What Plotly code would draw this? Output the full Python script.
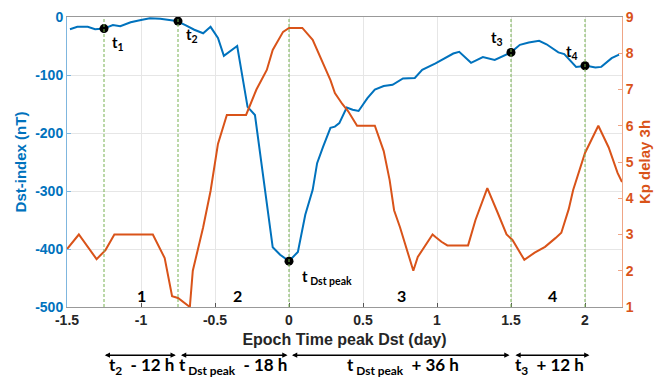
import plotly.graph_objects as go

# ---- data ----
dst_t = [-1.48, -1.43, -1.36, -1.31, -1.25, -1.19, -1.14, -1.07, -1.0, -0.94, -0.87, -0.76,
         -0.70, -0.64, -0.58, -0.53, -0.48, -0.44, -0.35, -0.28, -0.23, -0.20, -0.16, -0.11,
         -0.06, 0.0, 0.06, 0.11, 0.16, 0.19, 0.23, 0.28, 0.31, 0.34, 0.39, 0.43, 0.47, 0.53,
         0.58, 0.64, 0.70, 0.77, 0.85, 0.90, 0.99, 1.05, 1.11, 1.15, 1.23, 1.31, 1.39, 1.50,
         1.56, 1.62, 1.69, 1.74, 1.82, 1.86, 1.94, 2.01, 2.07, 2.11, 2.18, 2.23]
dst_v = [-21, -17, -17, -21, -20, -14, -16, -9, -5, -2, -3, -7,
         -14, -22, -28, -17, -36, -67, -50, -155, -169, -224, -298, -397,
         -410, -421, -405, -341, -298, -252, -224, -191, -189, -183, -156, -160, -162, -140,
         -125, -119, -117, -106, -105, -91, -80, -71, -63, -60, -79, -69, -74, -61,
         -48, -44, -41, -47, -61, -64, -86, -84, -87, -86, -71, -65]

kp_t = [-1.5, -1.42, -1.30, -1.24, -1.18, -0.92, -0.84, -0.79, -0.75, -0.70, -0.67, -0.65,
        -0.58, -0.53, -0.48, -0.42, -0.29, -0.22, -0.15, -0.11, -0.04, 0.0, 0.09, 0.16,
        0.21, 0.28, 0.31, 0.36, 0.40, 0.46, 0.58, 0.64, 0.68, 0.71, 0.75, 0.84, 0.87, 0.97,
        0.99, 1.03, 1.07, 1.21, 1.26, 1.34, 1.41, 1.47, 1.51, 1.59, 1.66, 1.73, 1.80, 1.84,
        1.89, 1.92, 2.0, 2.09, 2.16, 2.22, 2.25]
kp_v = [2.6, 3.0, 2.32, 2.57, 3.0, 3.0, 2.35, 1.3, 1.25, 1.1, 1.0, 2.0,
        3.2, 4.2, 5.5, 6.3, 6.3, 7.0, 7.54, 8.09, 8.59, 8.7, 8.7, 8.37,
        7.9, 7.26, 6.9, 6.6, 6.4, 6.0, 6.0, 5.3, 4.5, 3.67, 3.2, 2.0, 2.38, 3.0,
        2.93, 2.8, 2.7, 2.7, 3.4, 4.28, 3.6, 3.0, 2.85, 2.3, 2.5, 2.66, 2.9, 3.05,
        3.7, 4.23, 5.25, 6.0, 5.4, 4.7, 4.45]

x_ticks = [-1.5, -1, -0.5, 0, 0.5, 1, 1.5, 2]
x_ticklabels = ["-1.5", "-1", "-0.5", "0", "0.5", "1", "1.5", "2"]
dst_ticks = [0, -100, -200, -300, -400, -500]
dst_ticklabels = ["0", "-100", "-200", "-300", "-400", "-500"]
kp_ticks = [1, 2, 3, 4, 5, 6, 7, 8, 9]

event_t = [-1.25, -0.75, 0.0, 1.5, 2.0]
event_dst = [-20, -7, -421, -61, -84]
event_labels = ["t<sub>1</sub>", "t<sub>2</sub>", "t<sub> Dst peak</sub>", "t<sub>3</sub>", "t<sub>4</sub>"]

phase_labels = ["1", "2", "3", "4"]
phase_x = [-1.0, -0.35, 0.76, 1.78]

span_start = [-1.255, -0.74, 0.01, 1.52]
span_end = [-0.765, -0.01, 1.49, 2.03]
span_text = ["t<sub>2</sub>  - 12 h", "t<sub> Dst peak</sub>  - 18 h",
             "t<sub> Dst peak</sub>  + 36 h", "t<sub>3</sub>  + 12 h"]
span_text_x = [-1.0, -0.38, 0.77, 1.76]

BLUE = "#0072BD"
ORANGE = "#D95319"
GREEN = "#77B150"
TFONT = "Lato"

fig = go.Figure()
fig.add_trace(go.Scatter(x=dst_t, y=dst_v, mode="lines", line=dict(color=BLUE, width=2),
                         yaxis="y", showlegend=False))
fig.add_trace(go.Scatter(x=kp_t, y=kp_v, mode="lines", line=dict(color=ORANGE, width=2),
                         yaxis="y2", showlegend=False))
fig.add_trace(go.Scatter(x=event_t, y=event_dst, mode="markers",
                         marker=dict(color="black", size=9), yaxis="y", showlegend=False))

for t in event_t:
    fig.add_shape(type="line", xref="x", yref="paper", x0=t, x1=t, y0=0, y1=1,
                  line=dict(color=GREEN, width=1, dash="3px,2px"), layer="above")

# event labels
offsets = [(14, -14), (14, -14), (38, -16), (-14, 14), (-13, 14)]
for t, v, lab, (dx, dy) in zip(event_t, event_dst, event_labels, offsets):
    fig.add_annotation(x=t, y=v, xref="x", yref="y", text="<b>" + lab + "</b>",
                       showarrow=False, xshift=dx, yshift=dy,
                       font=dict(family=TFONT, size=15, color="black"))

for lab, x in zip(phase_labels, phase_x):
    fig.add_annotation(x=x, y=-480, xref="x", yref="y", text="<b>" + lab + "</b>",
                       showarrow=False, font=dict(family=TFONT, size=16, color="black"))

for s, e in zip(span_start, span_end):
    fig.add_annotation(x=e, y=-0.166, xref="x", yref="y domain", ax=s, ay=-0.166,
                       axref="x", ayref="y domain", text="", showarrow=True,
                       arrowhead=2, arrowside="end+start", arrowsize=0.7, arrowwidth=1.5,
                       arrowcolor="black")
for txt, x in zip(span_text, span_text_x):
    fig.add_annotation(x=x, y=-0.252, xref="x", yref="paper", text="<b>" + txt + "</b>",
                       showarrow=False, font=dict(family=TFONT, size=17, color="black"))

fig.update_layout(
    width=670, height=380,
    margin=dict(l=67, r=48, t=17, b=73, autoexpand=False),
    paper_bgcolor="white", plot_bgcolor="white",
    font=dict(family="Arial", size=13),
    xaxis=dict(range=[-1.5, 2.25], tickvals=x_ticks,
               ticktext=["<b>" + s + "</b>" for s in x_ticklabels],
               showgrid=True, gridcolor="#E6E6E6", zeroline=False, automargin=False,
               showline=True, linecolor="#999999", mirror=True, ticks="inside",
               ticklen=4, tickcolor="#555555", tickfont=dict(color="#262626", size=14),
               title=dict(text="<b>Epoch Time peak Dst (day)</b>", standoff=7,
                          font=dict(size=16, color="#262626"))),
    yaxis=dict(range=[-500, 0], tickvals=dst_ticks,
               ticktext=["<b>" + s + "</b>" for s in dst_ticklabels],
               showgrid=True, gridcolor="#E6E6E6", automargin=False,
               zeroline=False, showline=True, linecolor="#7FB6DE", ticks="inside", ticklen=4,
               tickcolor="#7FB6DE", tickfont=dict(color=BLUE, size=14),
               title=dict(text="<b>Dst-index (nT)</b>", standoff=4,
                          font=dict(color=BLUE, size=15))),
    yaxis2=dict(range=[1, 9], tickvals=kp_ticks,
                ticktext=["<b>%d</b>" % k for k in kp_ticks],
                overlaying="y", side="right", showgrid=False, automargin=False,
                zeroline=False, showline=True, linecolor="#EFA585", ticks="inside",
                ticklen=4, tickcolor="#EFA585", tickfont=dict(color=ORANGE, size=14),
                title=dict(text="<b>Kp delay 3h</b>", standoff=6,
                           font=dict(color=ORANGE, size=15))),
)

fig.write_html("out.html", config={"displayModeBar": False},
               post_script="document.body.style.margin='0';")
